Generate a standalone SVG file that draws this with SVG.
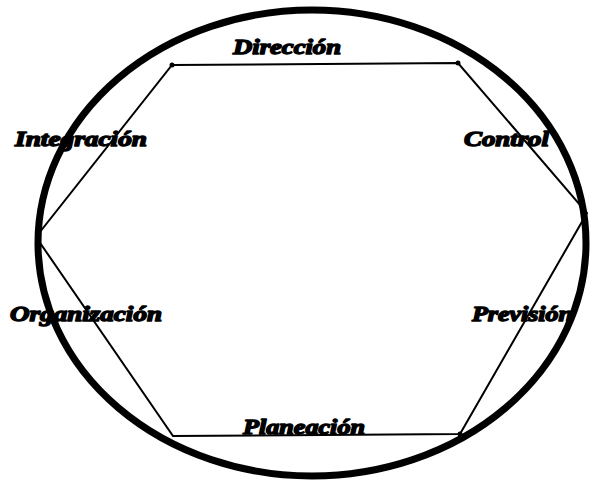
<svg xmlns="http://www.w3.org/2000/svg" width="592" height="483" viewBox="0 0 592 483">
<style>
.lbl{font-family:"Liberation Serif","Times New Roman",serif;font-weight:bold;font-style:italic;font-size:22px;fill:#000;stroke:#000;stroke-width:1.5px;stroke-linejoin:round}
.edge{fill:none;stroke:#000;stroke-width:2}
</style>
<rect width="592" height="483" fill="#fff"/>
<g id="ring"><ellipse cx="312" cy="243" rx="274" ry="233" fill="none" stroke="#000" stroke-width="7"/></g>
<g id="connectors">
<polygon class="edge" points="172,65 458,63 587,213 460,434 173,436 36,237"/>
<circle cx="172" cy="65" r="2.5"/><circle cx="458" cy="63" r="2.5"/>
<circle cx="460" cy="434" r="2.5"/>
</g>
<g id="n-direccion"><text class="lbl" x="233" y="54" textLength="108" lengthAdjust="spacingAndGlyphs">Dirección</text></g>
<g id="n-control"><text class="lbl" x="464" y="146" textLength="85" lengthAdjust="spacingAndGlyphs">Control</text></g>
<g id="n-prevision"><text class="lbl" x="472" y="321" textLength="101" lengthAdjust="spacingAndGlyphs">Previsión</text></g>
<g id="n-planeacion"><text class="lbl" x="243" y="434" textLength="122" lengthAdjust="spacingAndGlyphs">Planeación</text></g>
<g id="n-organizacion"><text class="lbl" x="10" y="321" textLength="152" lengthAdjust="spacingAndGlyphs">Organización</text></g>
<g id="n-integracion"><text class="lbl" x="15" y="146" textLength="132" lengthAdjust="spacingAndGlyphs">Integración</text></g>
</svg>
